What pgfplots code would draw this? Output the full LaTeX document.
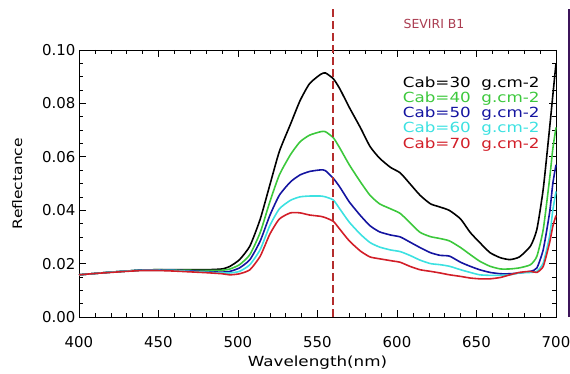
\documentclass[border=0pt]{standalone}
\usepackage{fontspec}
\setmainfont{DejaVu Sans}
\newfontfamily\widefont{DejaVu Sans}[FakeStretch=1.2]
\usepackage{pgfplots}
\usepackage{pgfplotstable}
\pgfplotsset{compat=1.18}

\definecolor{cabgreen}{RGB}{60,200,60}
\definecolor{cabblue}{RGB}{20,20,160}
\definecolor{cabcyan}{RGB}{60,225,225}
\definecolor{cabred}{RGB}{210,30,40}
\definecolor{bandred}{RGB}{180,45,45}
\definecolor{bandlabel}{RGB}{170,60,80}
\definecolor{bandpurple}{RGB}{60,20,90}

% canopy reflectance for five chlorophyll contents
\pgfplotstableread{
wl     c30    c40    c50    c60    c70
400    .0158  .0158  .0158  .0158  .0158
410    .0163  .0163  .0163  .0163  .0163
420    .0168  .0168  .0168  .0168  .0167
430    .0172  .0172  .0172  .0172  .0171
440    .0176  .0176  .0176  .0175  .0174
450    .0177  .0177  .0176  .0175  .0174
460    .0177  .0176  .0175  .0174  .0172
470    .0177  .0175  .0173  .0171  .0169
480    .0177  .0174  .0170  .0168  .0166
490    .0180  .0175  .0168  .0165  .0162
495    .0190  .0180  .0171  .0165  .0158
501    .0215  .0196  .0184  .0171  .0162
507.5  .0266  .0234  .0215  .0196  .0177
514    .0367  .0317  .0285  .0253  .0228
520    .0494  .0431  .0380  .0342  .0310
526    .0620  .0532  .0456  .0405  .0367
533    .0722  .0608  .0506  .0437  .0390
539    .0810  .0656  .0532  .0450  .0390
545    .0874  .0681  .0545  .0453  .0382
552    .0909  .0694  .0551  .0453  .0377
555    .0914  .0694  .0548  .0450  .0372
560    .0892  .0671  .0519  .0438  .0358
564    .0855  .0633  .0487  .0405  .0329
570    .0785  .0570  .0431  .0355  .0285
577    .0709  .0506  .0380  .0310  .0247
583    .0639  .0456  .0342  .0279  .0225
589    .0595  .0424  .0319  .0262  .0218
596    .0560  .0405  .0307  .0251  .0211
602    .0540  .0388  .0300  .0245  .0205
608    .0500  .0354  .0281  .0231  .0190
614.5  .0456  .0317  .0260  .0213  .0177
621    .0424  .0301  .0241  .0200  .0171
627    .0412  .0294  .0231  .0196  .0165
633    .0399  .0285  .0228  .0190  .0158
640    .0367  .0260  .0205  .0177  .0152
646    .0317  .0234  .0190  .0167  .0146
652    .0279  .0209  .0177  .0158  .0143
658.5  .0241  .0190  .0167  .0156  .0143
665    .0222  .0180  .0162  .0156  .0148
671    .0215  .0180  .0162  .0158  .0158
677    .0225  .0184  .0165  .0165  .0167
684    .0266  .0196  .0171  .0167  .0171
688    .0329  .0228  .0184  .0171  .0167
692    .0481  .0329  .0253  .0203  .0190
696    .0709  .0519  .0392  .0304  .0279
698    .0830  .0630  .0500  .0400  .0340
700    .0950  .0710  .0570  .0470  .0380
}\reflectance

% vertical band markers (wavelength, bottom, top)
\pgfplotstableread{
x      y
560    0
560    0.1153
}\bandone
\pgfplotstableread{
x      y
708.2  0
708.2  0.1153
}\bandtwo

\begin{document}
\begin{tikzpicture}
\useasboundingbox (0,0) rectangle (570bp,374bp);
\begin{axis}[
  at={(79bp,57bp)}, anchor=south west,
  scale only axis, width=477bp, height=267bp,
  xmin=400, xmax=700, ymin=0, ymax=0.1,
  xtick={400,450,500,550,600,650,700}, minor x tick num=4,
  ytick={0,0.02,0.04,0.06,0.08,0.10}, minor y tick num=3,
  yticklabel style={/pgf/number format/fixed,
                    /pgf/number format/fixed zerofill,
                    /pgf/number format/precision=2},
  /pgf/number format/assume math mode=true,
  tick align=inside, major tick length=7bp, minor tick length=4bp,
  tick style={black, line width=0.6pt},
  axis line style={line width=0.8pt},
  ticklabel style={font=\fontsize{15}{15}\selectfont},
  xticklabel style={yshift=-16bp},
  xlabel={Wavelength(nm)},
  ylabel={Reflectance},
  xlabel style={font=\widefont\fontsize{14}{14}\selectfont, yshift=-1bp},
  ylabel style={font=\widefont\fontsize{13}{13}\selectfont, yshift=13bp},
  clip=false,
]
\addplot[black,    line width=1.6pt, smooth, tension=0.35] table[x=wl, y=c30] {\reflectance};
\addplot[cabgreen, line width=1.6pt, smooth, tension=0.35] table[x=wl, y=c40] {\reflectance};
\addplot[cabblue,  line width=1.6pt, smooth, tension=0.35] table[x=wl, y=c50] {\reflectance};
\addplot[cabcyan,  line width=1.6pt, smooth, tension=0.35] table[x=wl, y=c60] {\reflectance};
\addplot[cabred,   line width=1.6pt, smooth, tension=0.35] table[x=wl, y=c70] {\reflectance};

% SEVIRI band markers
\addplot[draw=bandred, line width=2pt, dash pattern=on 8bp off 4bp]
  table[x=x, y=y] {\bandone};
\addplot[draw=bandpurple, line width=1.5pt]
  table[x=x, y=y] {\bandtwo};

\node[text=bandlabel, font=\fontsize{12.5}{12.5}\selectfont]
  at (axis cs:623.3,0.1098) {SEVIRI B1};

\node[anchor=north west, inner sep=0pt, align=left,
      font=\widefont\fontsize{14}{15.2}\selectfont]
  at (axis cs:603.6,0.0900) {%
  \textcolor{black}{Cab=30\ \ g.cm-2}\\
  \textcolor{cabgreen}{Cab=40\ \ g.cm-2}\\
  \textcolor{cabblue}{Cab=50\ \ g.cm-2}\\
  \textcolor{cabcyan}{Cab=60\ \ g.cm-2}\\
  \textcolor{cabred}{Cab=70\ \ g.cm-2}};
\end{axis}
\end{tikzpicture}
\end{document}
